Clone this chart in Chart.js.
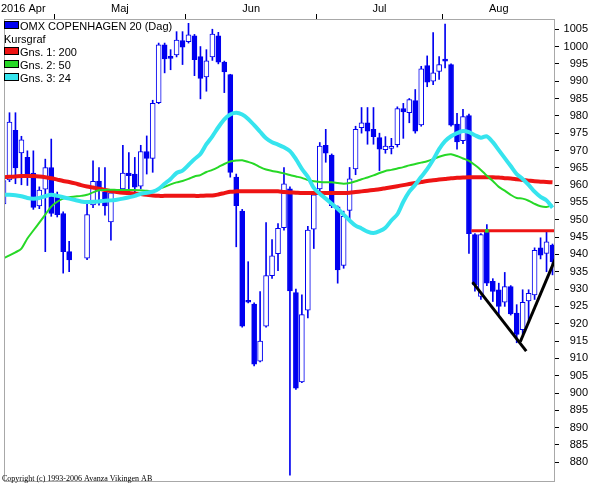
<!DOCTYPE html>
<html>
<head>
<meta charset="utf-8">
<script src="https://cdn.jsdelivr.net/npm/chart.js@4"></script>
<style>
  html, body { margin: 0; padding: 0; background: #fff; }
</style>
</head>
<body>
<canvas id="omx" width="591" height="485"></canvas>
<script>
// OMX Copenhagen 20, daily candles Apr-Aug 2016 (null = exchange holiday)
const dates = [
  '2016-04-19','2016-04-20','2016-04-21','2016-04-22','2016-04-25','2016-04-26','2016-04-27','2016-04-28','2016-04-29',
  '2016-05-02','2016-05-03','2016-05-04','2016-05-05','2016-05-06','2016-05-09','2016-05-10','2016-05-11','2016-05-12','2016-05-13',
  '2016-05-16','2016-05-17','2016-05-18','2016-05-19','2016-05-20','2016-05-23','2016-05-24','2016-05-25','2016-05-26','2016-05-27',
  '2016-05-30','2016-05-31',
  '2016-06-01','2016-06-02','2016-06-03','2016-06-06','2016-06-07','2016-06-08','2016-06-09','2016-06-10','2016-06-13','2016-06-14',
  '2016-06-15','2016-06-16','2016-06-17','2016-06-20','2016-06-21','2016-06-22','2016-06-23','2016-06-24','2016-06-27','2016-06-28',
  '2016-06-29','2016-06-30',
  '2016-07-01','2016-07-04','2016-07-05','2016-07-06','2016-07-07','2016-07-08','2016-07-11','2016-07-12','2016-07-13','2016-07-14',
  '2016-07-15','2016-07-18','2016-07-19','2016-07-20','2016-07-21','2016-07-22','2016-07-25','2016-07-26','2016-07-27','2016-07-28',
  '2016-07-29',
  '2016-08-01','2016-08-02','2016-08-03','2016-08-04','2016-08-05','2016-08-08','2016-08-09','2016-08-10','2016-08-11','2016-08-12',
  '2016-08-15','2016-08-16','2016-08-17','2016-08-18','2016-08-19','2016-08-22','2016-08-23','2016-08-24','2016-08-25'
];

const openP = [
  954.6, 961.5, 975.8, 969.3, 968.0, 963.5, 954.0, 958.8, 965.1, 956.5,
  951.8, 940.8, null, null, 938.9, 954.3, 961.2, 958.0, 949.4, null,
  958.9, 963.5, 963.2, 959.7, 969.7, 967.7, 983.8, 1000.5, 997.0, 997.6,
  1001.7, 1001.4, 1003.1, 997.1, 991.2, 997.0, 1003.1, 995.5, 991.9, 962.3,
  952.5, 926.7, 925.7, 909.2, 919.3, 933.9, 940.2, 947.7, 958.9, 929.0,
  903.2, 923.9, 947.3, 958.9, 971.5, 968.7, 953.7, 936.8, 952.7, 964.7,
  976.6, 978.0, 976.1, 973.7, 970.2, 970.6, 971.7, 982.1, 980.9, 984.4,
  977.4, 994.5, 990.0, 992.8, 996.2, 994.8, 977.6, 972.8, 980.1, 945.7,
  927.9, 947.0, 932.2, 929.8, 926.2, 930.7, 923.1, 918.3, 926.6, 928.3,
  941.9, 940.3, 942.7
];
const highP = [
  963.0, 980.9, 980.9, 974.1, 969.9, 969.9, 959.5, 967.5, 973.3, 958.0,
  952.3, 943.8, null, null, 955.2, 967.0, 965.1, 965.1, 958.0, null,
  971.5, 969.4, 968.0, 971.5, 974.2, 984.5, 1001.0, 1001.0, 999.1, 1004.3,
  1004.3, 1006.7, 1003.5, 1000.0, 999.1, 1005.0, 1004.1, 995.8, 992.0, 963.2,
  953.0, 937.9, 926.0, 929.3, 949.2, 944.3, 948.9, 965.1, 959.5, 930.0,
  928.3, 948.1, 958.0, 972.3, 976.1, 969.0, 954.0, 952.5, 965.1, 977.0,
  982.4, 982.4, 982.4, 975.0, 974.0, 973.5, 982.6, 983.6, 985.0, 987.6,
  994.3, 997.3, 1004.0, 997.1, 1006.5, 995.0, 980.7, 981.9, 980.5, 946.0,
  946.0, 948.6, 933.0, 931.7, 934.8, 931.0, 925.5, 929.8, 929.8, 941.9,
  944.8, 946.5, 943.0
];
const lowP = [
  953.0, 961.0, 960.4, 960.1, 959.9, 953.0, 953.2, 940.8, 951.0, 950.8,
  934.6, 935.0, null, null, 938.5, 953.5, 954.2, 951.3, 944.1, null,
  958.5, 957.5, 957.5, 959.0, 963.2, 963.7, 983.5, 992.4, 993.3, 997.0,
  994.8, 1001.0, 991.6, 984.9, 987.1, 996.0, 995.0, 986.7, 962.3, 942.2,
  919.0, 926.0, 907.8, 909.0, 919.0, 933.1, 935.3, 947.0, 876.3, 901.0,
  903.0, 921.7, 941.7, 958.0, 966.6, 953.5, 931.7, 936.0, 949.8, 963.0,
  975.0, 971.8, 971.8, 964.2, 969.2, 969.0, 971.0, 973.5, 978.0, 975.0,
  977.0, 988.4, 989.0, 990.5, 993.8, 977.0, 970.4, 972.0, 940.3, 929.4,
  927.0, 931.0, 926.4, 922.1, 925.0, 922.5, 914.5, 917.0, 920.7, 927.0,
  938.7, 935.0, 934.1
];
const closeP = [
  961.3, 978.2, 965.0, 973.1, 963.1, 953.6, 958.6, 965.1, 951.8, 951.5,
  940.8, 938.4, null, null, 951.5, 961.1, 959.2, 954.0, 957.8, null,
  963.5, 962.7, 959.4, 969.7, 967.7, 983.6, 1000.5, 996.4, 996.6, 1001.9,
  999.8, 1003.4, 996.2, 990.8, 995.9, 1003.6, 995.5, 992.7, 963.7, 954.1,
  919.3, 926.2, 908.3, 915.0, 933.9, 939.6, 947.5, 960.4, 929.5, 901.4,
  922.6, 947.0, 957.2, 971.3, 969.2, 954.1, 935.5, 951.0, 961.8, 976.1,
  978.0, 975.6, 974.0, 970.4, 971.3, 971.2, 982.1, 981.1, 984.7, 975.6,
  993.6, 989.7, 992.4, 994.8, 995.8, 977.3, 972.5, 979.8, 946.0, 931.2,
  945.7, 931.7, 929.3, 925.0, 930.7, 922.8, 916.9, 926.2, 928.8, 941.2,
  939.8, 943.6, 937.9
];

// moving averages as drawn (Gns. 1: 200, Gns. 2: 50, Gns. 3: 24)
const ma200 = [
  962.3, 962.4, 962.5, 962.6, 962.6, 962.6, 962.5, 962.3, 962.0, 961.6,
  961.2, 960.9, 960.5, 960.0, 959.6, 959.3, 959.0, 958.6, 958.3, 958.0,
  957.8, 957.7, 957.6, 957.4, 957.2, 957.0, 956.9, 956.9, 956.9, 956.9,
  956.9, 956.9, 956.9, 956.9, 957.0, 957.0, 957.3, 957.7, 958.1, 958.2,
  958.2, 958.2, 958.2, 958.2, 958.2, 958.2, 958.2, 958.0, 957.9, 957.8,
  957.7, 957.7, 957.7, 957.7, 957.7, 957.7, 957.7, 957.7, 957.8, 958.0,
  958.2, 958.4, 958.6, 958.8, 959.1, 959.4, 959.7, 960.0, 960.3, 960.6,
  960.9, 961.2, 961.4, 961.6, 961.8, 962.0, 962.1, 962.2, 962.3, 962.3,
  962.3, 962.3, 962.3, 962.2, 962.0, 961.9, 961.7, 961.5, 961.3, 961.1,
  961.0, 960.9, 960.8
];
const ma50 = [
  938.9, 939.7, 940.6, 941.7, 944.6, 946.9, 949.2, 951.5, 953.8, 955.2,
  956.1, 956.5, 956.7, 956.9, 957.2, 957.9, 958.5, 958.6, 958.7, 958.6,
  958.6, 958.6, 958.6, 958.5, 958.4, 958.2, 958.9, 959.5, 960.2, 960.8,
  961.2, 961.8, 962.5, 962.9, 963.8, 964.4, 965.2, 966.1, 966.8, 967.1,
  967.2, 966.7, 966.1, 965.2, 964.5, 964.1, 963.8, 963.4, 962.9, 962.5,
  962.1, 961.5, 961.1, 960.9, 960.8, 960.8, 960.6, 960.4, 960.6, 961.1,
  961.7, 962.2, 962.8, 963.5, 964.1, 964.4, 964.8, 965.2, 965.7, 966.1,
  966.5, 966.9, 967.5, 968.2, 968.7, 968.9, 968.4, 967.7, 967.0, 965.8,
  964.4, 962.7, 961.2, 959.5, 958.4, 957.2, 956.3, 956.1, 955.5, 954.6,
  953.9, 953.7, 954.2
];
const ma24 = [
  957.2, 957.2, 957.1, 956.8, 956.3, 956.1, 956.3, 956.8, 957.2, 956.9,
  956.5, 956.1, 955.7, 955.3, 955.1, 955.2, 955.3, 955.5, 955.6, 955.8,
  956.1, 956.5, 956.9, 957.5, 957.8, 958.1, 958.9, 960.4, 961.8, 963.5,
  964.2, 965.8, 967.5, 969.0, 971.8, 974.1, 976.7, 979.0, 980.4, 980.9,
  980.4, 979.1, 977.3, 975.4, 973.5, 972.4, 971.7, 970.9, 969.8, 967.5,
  964.7, 962.4, 959.2, 957.5, 956.1, 954.6, 953.2, 951.5, 949.8, 948.3,
  947.5, 946.6, 946.2, 946.7, 947.7, 949.8, 951.6, 955.2, 958.1, 960.1,
  962.4, 964.6, 967.3, 970.4, 972.7, 974.1, 975.0, 975.6, 975.3, 974.4,
  973.7, 974.1, 972.4, 970.1, 967.8, 965.5, 963.2, 961.8, 960.1, 958.1,
  956.6, 955.6, 953.5
];

const priceTicks = [880, 885, 890, 895, 900, 905, 910, 915, 920, 925, 930, 935, 940,
  945, 950, 955, 960, 965, 970, 975, 980, 985, 990, 995, 1000, 1005];
const monthNames = ['Jan', 'Feb', 'Mar', 'Apr', 'Maj', 'Jun', 'Jul', 'Aug', 'Sep', 'Okt', 'Nov', 'Dec'];

// drawn objects: resistance level and the two trend lines [index, price]
const resistStart = 78.4;
const resistLevel = 946.8;
const resistMark = 81;
const trendDown = [[78.6, 932.0], [87.6, 912.1]];
const trendUp = [[86.6, 914.8], [92.6, 939.2]];

const BLUE = '#0000f0';
const RED = '#ee1414';
const GREEN = '#26d826';
const CYAN = '#36e4ee';
const FONT = '"Liberation Sans", Arial, sans-serif';

// month boundaries and month label centres from the dates
const monthBounds = [];
const months = [];
dates.forEach((d, i) => {
  const m = +d.slice(5, 7);
  const last = months[months.length - 1];
  if (!last || last.m !== m) {
    if (i > 0) monthBounds.push(i - 0.5);
    months.push({ m: m, first: i, last: i, year: d.slice(0, 4) });
  } else {
    last.last = i;
  }
});

const idx = dates.map((d, i) => i).filter(i => openP[i] !== null);
const wicks = idx.map(i => ({ x: i, y: [lowP[i], highP[i]] }));
const bodies = idx.map(i => ({ x: i, y: [openP[i], closeP[i]] }));
const bodyFill = idx.map(i => closeP[i] >= openP[i] ? '#ffffff' : BLUE);
const toXY = arr => arr.map((v, i) => ({ x: i, y: v }));
const toPts = arr => arr.map(p => ({ x: p[0], y: p[1] }));

const overlay = {
  id: 'overlay',
  afterDraw(chart) {
    const ctx = chart.ctx;
    const a = chart.chartArea;
    const xs = chart.scales.x;
    ctx.save();
    // frame
    ctx.strokeStyle = '#a8a8a8';
    ctx.lineWidth = 1;
    ctx.strokeRect(a.left + 0.5, a.top + 0.5, a.right - a.left - 1, a.bottom - a.top);
    // month labels
    ctx.fillStyle = '#000';
    ctx.font = '11px ' + FONT;
    ctx.textBaseline = 'alphabetic';
    months.forEach((mo, j) => {
      if (j === 0) {
        ctx.textAlign = 'left';
        ctx.fillText(mo.year + ' ' + monthNames[mo.m - 1], 1, 12);
      } else {
        ctx.textAlign = 'center';
        ctx.fillText(monthNames[mo.m - 1], xs.getPixelForValue((mo.first + mo.last) / 2), 12);
      }
    });
    // legend
    const items = [
      { color: BLUE, text: 'OMX COPENHAGEN 20 (Dag)' },
      { color: null, text: 'Kursgraf' },
      { color: RED, text: 'Gns. 1: 200' },
      { color: GREEN, text: 'Gns. 2: 50' },
      { color: CYAN, text: 'Gns. 3: 24' }
    ];
    ctx.textAlign = 'left';
    items.forEach((it, j) => {
      const base = 30 + j * 13;
      if (it.color) {
        ctx.fillStyle = it.color;
        ctx.fillRect(4, base - 8, 15, 7);
        ctx.strokeStyle = '#000';
        ctx.strokeRect(4.5, base - 8.5, 14, 7);
        ctx.fillStyle = '#000';
        ctx.fillText(it.text, 20, base);
      } else {
        ctx.fillStyle = '#000';
        ctx.fillText(it.text, 4, base);
      }
    });
    // copyright
    ctx.font = '8px "Liberation Serif", "Times New Roman", serif';
    ctx.fillText('Copyright (c) 1993-2006 Avanza Vikingen AB', 2, 481);
    ctx.restore();
  }
};

new Chart(document.getElementById('omx'), {
  type: 'bar',
  data: {
    datasets: [
      {
        type: 'bar', label: 'wick', data: wicks, order: 10, grouped: false,
        barThickness: 1, backgroundColor: BLUE, borderWidth: 0
      },
      {
        type: 'bar', label: 'OMX COPENHAGEN 20 (Dag)', data: bodies, order: 9, grouped: false,
        barThickness: 5, backgroundColor: bodyFill, borderColor: BLUE, borderWidth: 1,
        borderSkipped: false, minBarLength: 2
      },
      {
        type: 'line', label: 'Gns. 1: 200', data: toXY(ma200), order: 5,
        borderColor: RED, borderWidth: 4, pointRadius: 0, tension: 0.3
      },
      {
        type: 'line', label: 'Gns. 2: 50', data: toXY(ma50), order: 4,
        borderColor: GREEN, borderWidth: 2, pointRadius: 0, tension: 0.3
      },
      {
        type: 'line', label: 'Gns. 3: 24', data: toXY(ma24), order: 3,
        borderColor: CYAN, borderWidth: 4, pointRadius: 0, tension: 0.3
      },
      {
        type: 'line', label: 'resistance',
        data: [{ x: resistStart, y: resistLevel }, { x: dates.length, y: resistLevel }], order: 2,
        borderColor: RED, borderWidth: 3, pointRadius: 0
      },
      {
        type: 'line', label: 'mark', data: [{ x: resistMark, y: resistLevel }], order: 1,
        showLine: false, pointStyle: 'rect', pointRadius: 2.5,
        backgroundColor: GREEN, borderColor: GREEN, borderWidth: 0
      },
      {
        type: 'line', label: 'trend down', data: toPts(trendDown), order: 0,
        borderColor: '#000', borderWidth: 3, pointRadius: 0
      },
      {
        type: 'line', label: 'trend up', data: toPts(trendUp), order: 0,
        borderColor: '#000', borderWidth: 3, pointRadius: 0
      }
    ]
  },
  options: {
    responsive: false,
    animation: false,
    events: [],
    layout: { padding: { left: 1, right: 3, top: 0, bottom: 1 } },
    plugins: { legend: { display: false }, tooltip: { enabled: false } },
    scales: {
      x: {
        type: 'linear', position: 'top', min: 0.08, max: 92.42, offset: false,
        afterBuildTicks: s => { s.ticks = monthBounds.map(v => ({ value: v })); },
        afterFit: s => { s.height = 19; s.paddingLeft = 0; s.paddingRight = 0; },
        ticks: { display: false },
        grid: { drawOnChartArea: false, drawTicks: true, tickLength: 5, color: '#000', offset: false },
        border: { display: false }
      },
      y: {
        type: 'linear', position: 'right', min: 874.6, max: 1007.95,
        afterBuildTicks: s => { s.ticks = priceTicks.map(v => ({ value: v })); },
        afterFit: s => { s.width = 33; s.paddingTop = 0; s.paddingBottom = 0; },
        ticks: {
          autoSkip: false, crossAlign: 'far', padding: 4.5, color: '#000',
          font: { family: FONT, size: 11 },
          callback: v => String(v)
        },
        grid: { drawOnChartArea: false, drawTicks: true, tickLength: 4, color: '#000' },
        border: { display: false }
      }
    }
  },
  plugins: [overlay]
});
</script>
</body>
</html>
